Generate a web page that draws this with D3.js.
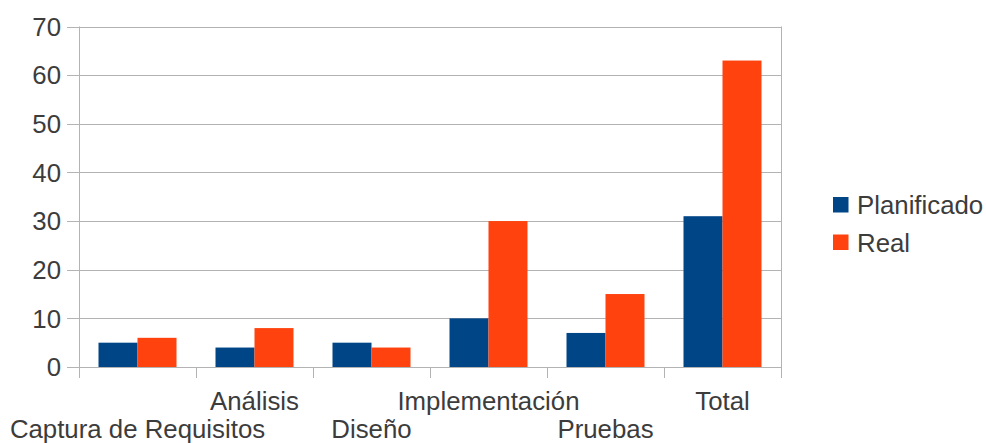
<!DOCTYPE html>
<html>
<head>
<meta charset="utf-8">
<script src="https://cdn.jsdelivr.net/npm/d3@7"></script>
<style>
  html, body { margin: 0; padding: 0; background: #fff; }
  svg { display: block; font-family: "Liberation Sans", Arial, sans-serif; }
</style>
</head>
<body>
<svg id="chart" width="986" height="443"></svg>
<script>
// Phases of the project and hours per phase
const categories = ["Captura de Requisitos", "Análisis", "Diseño", "Implementación", "Pruebas", "Total"];
const planificado = [5, 4, 5, 10, 7, 31];
const real = [6, 8, 4, 30, 15, 63];
const seriesNames = ["Planificado", "Real"];
const seriesColors = ["#004586", "#ff420e"];
const yTicks = [0, 10, 20, 30, 40, 50, 60, 70];

const svg = d3.select("#chart");
const plotLeft = 79, plotRight = 781, plotTop = 26.5, plotBottom = 367;
const textColor = "#3c3c3c";
const lineColor = "#b3b3b3";
const fontSize = 25.8;

const x = d3.scaleBand().domain(categories).range([plotLeft, plotRight]).paddingInner(0).paddingOuter(0);
const inner = d3.scaleBand().domain(seriesNames).range([0, x.bandwidth()]).paddingOuter(0.5).paddingInner(0);
const y = d3.scaleLinear().domain([0, 70]).range([plotBottom, plotTop]);

// Horizontal grid
svg.append("g").selectAll("line").data(yTicks).join("line")
  .attr("x1", plotLeft - 12).attr("x2", plotRight)
  .attr("y1", d => Math.round(y(d)) + 0.5).attr("y2", d => Math.round(y(d)) + 0.5)
  .attr("stroke", lineColor).attr("stroke-width", 1);

// Y labels
svg.append("g").selectAll("text").data(yTicks).join("text")
  .attr("x", 61).attr("y", d => y(d))
  .attr("dy", "0.36em")
  .attr("text-anchor", "end")
  .attr("font-size", fontSize).attr("fill", textColor)
  .text(d => d);

// Left and right frame lines, category tick marks
const boundaries = d3.range(categories.length + 1).map(i => plotLeft + i * x.bandwidth());
svg.append("g").selectAll("line").data(boundaries).join("line")
  .attr("x1", d => Math.round(d) + 0.5).attr("x2", d => Math.round(d) + 0.5)
  .attr("y1", (d, i) => (i === 0 || i === categories.length) ? plotTop : plotBottom)
  .attr("y2", plotBottom + 11)
  .attr("stroke", lineColor).attr("stroke-width", 1);

// Bars
const data = categories.map((c, i) => ({ cat: c, values: [planificado[i], real[i]] }));
const groups = svg.append("g").selectAll("g").data(data).join("g")
  .attr("transform", d => `translate(${x(d.cat)},0)`);
groups.selectAll("rect").data(d => d.values.map((v, j) => ({ name: seriesNames[j], v, j })))
  .join("rect")
  .attr("x", d => inner(d.name))
  .attr("width", inner.bandwidth())
  .attr("y", d => y(d.v))
  .attr("height", d => y(0) - y(d.v))
  .attr("fill", d => seriesColors[d.j]);

// Category labels, staggered on two rows
svg.append("g").selectAll("text").data(categories).join("text")
  .attr("x", d => x(d) + x.bandwidth() / 2)
  .attr("y", (d, i) => i % 2 === 0 ? 438 : 410)
  .attr("text-anchor", "middle")
  .attr("font-size", fontSize).attr("fill", textColor)
  .text(d => d);

// Legend
const legend = svg.append("g").selectAll("g").data(seriesNames).join("g")
  .attr("transform", (d, i) => `translate(833,${197 + i * 37.5})`);
legend.append("rect").attr("width", 15.5).attr("height", 15.5)
  .attr("fill", (d, i) => seriesColors[i]);
legend.append("text").attr("x", 24).attr("y", 17)
  .attr("font-size", fontSize).attr("fill", textColor)
  .text(d => d);
</script>
</body>
</html>
